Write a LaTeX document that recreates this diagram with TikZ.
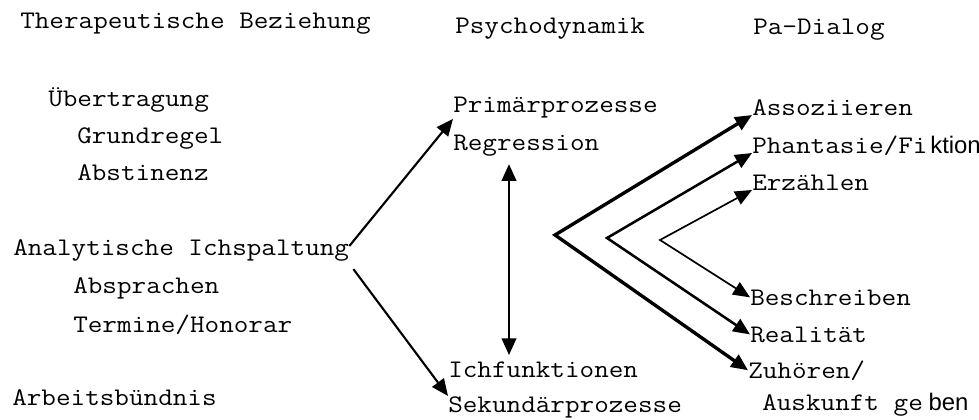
\documentclass[tikz,border=0pt]{standalone}
\usepackage{fontspec}
\setmonofont{Latin Modern Mono}[FakeStretch=1.12]
\setsansfont{Liberation Sans}
\usetikzlibrary{calc}
\usetikzlibrary{arrows.meta}

\newcommand{\nachtrag}[1]{{\sffamily\fontsize{17}{20}\selectfont #1}}

\begin{document}
\begin{tikzpicture}[x=0.025cm, y=-0.025cm,
		txt/.style={anchor=base west, inner sep=0pt, font=\ttfamily\fontsize{18}{21}\selectfont},
		spitze/.tip={Triangle[length=0.42cm, width=0.36cm]},
		pfeil/.style={-spitze},
		doppelpfeil/.style={spitze-spitze}]

						\useasboundingbox (0, 0) rectangle (979, 420);

						\node[txt] (ther) at (20, 29) {Therapeutische Beziehung};
						\node[txt] (psy) at (455, 34) {Psychodynamik};
						\node[txt] (pa) at (753, 35) {Pa-Dialog};

						\node[txt] (ueber) at (48, 107) {Übertragung};
						\node[txt] (grund) at (77, 143) {Grundregel};
						\node[txt] (abst) at (77, 180) {Abstinenz};
						\node[txt] (ana) at (13, 255) {Analytische Ichspaltung};
						\node[txt] (abspr) at (73, 293) {Absprachen};
						\node[txt] (term) at (73, 332) {Termine/Honorar};
						\node[txt] (arb) at (12, 405) {Arbeitsbündnis};

						\node[txt] (prim) at (453, 113) {Primärprozesse};
						\node[txt] (reg) at (453, 150) {Regression};
						\node[txt] (ich) at (448, 377) {Ichfunktionen};
						\node[txt] (sek) at (448, 412) {Sekundärprozesse};

						\node[txt] (assoz) at (752, 115) {Assoziieren};
						\node[txt] (phan) at (752, 153) {Phantasie/Fi\kern2pt\nachtrag{ktion}};
						\node[txt] (erz) at (752, 190) {Erzählen};
						\node[txt] (besch) at (750, 305) {Beschreiben};
						\node[txt] (real) at (750, 342) {Realität};
						\node[txt] (zuh) at (748, 378) {Zuhören/};
						\node[txt] (ausk) at (762, 410) {Auskunft ge\kern4pt\nachtrag{ben}};

						\coordinate (v1) at (555, 235);
						\coordinate (v2) at (607, 238);
						\coordinate (v3) at (660, 240);

						\draw[pfeil, line width=1.5pt] ($(ana.east)+(0, -4)$)--(prim.south west);
						\draw[pfeil, line width=1.5pt] ($(ana.south east)+(4, 8)$)--(sek.north west);
						\draw[doppelpfeil, line width=1.9pt] ($(reg.south west)+(56, 8)$)--($(ich.north west)+(61, -6)$);

						\draw[doppelpfeil, line width=2.4pt] (assoz.base west)--(v1)--(zuh.west);
						\draw[doppelpfeil, line width=1.8pt] (phan.base west)--(v2)--(real.west);
						\draw[doppelpfeil, line width=1.2pt] (erz.base west)--(v3)--(besch.west);

					\end{tikzpicture}
\end{document}
